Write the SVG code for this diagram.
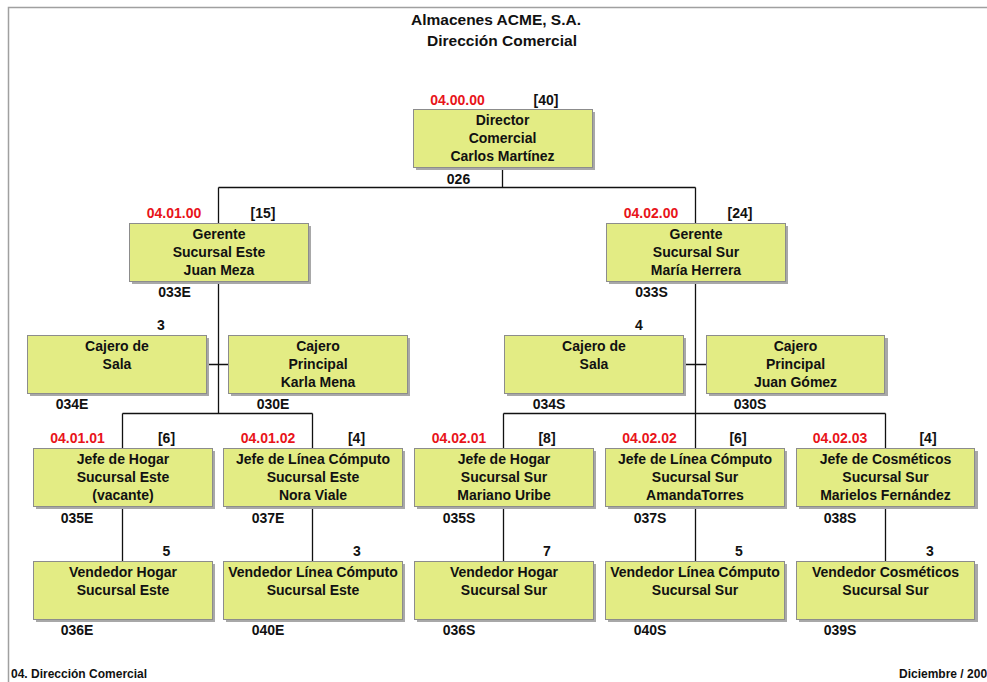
<svg xmlns="http://www.w3.org/2000/svg" width="987" height="682" viewBox="0 0 987 682">
<style>
.bx{fill:#e3ec84;stroke:#8c8c8c;stroke-width:1}
.sh{fill:#a8a8a8}
text{font-family:"Liberation Sans",Arial,sans-serif;font-weight:bold;fill:#111}
.t{font-size:14px;text-anchor:middle}
.m{font-size:14px;text-anchor:middle}
.r{fill:#e8141a}
.ttl{font-size:15.5px;text-anchor:middle}
.f{font-size:12px}
.ln{stroke:#111;stroke-width:1.3;fill:none}
.fr{stroke:#a0a0a0;stroke-width:1.5;fill:none}
</style>
<rect width="987" height="682" fill="#fff"/>
<path class="fr" d="M8.5,682 V7.5 H987"/>
<g id="title">
<text class="ttl" x="496" y="25">Almacenes ACME, S.A.</text>
<text class="ttl" x="502" y="46">Dirección Comercial</text>
</g>
<g id="connectors">
<path class="ln" d="M502.5,167 V187.5 M218.5,187.5 H695.5 M218.5,187.5 V413.5 M695.5,187.5 V413.5 M207,364.5 H228 M683,364.5 H706 M122.5,413.5 H312.5 M122.5,413.5 V561 M312.5,413.5 V561 M503.5,413.5 H885.5 M503.5,413.5 V561 M695.5,413.5 V561 M885.5,413.5 V561"/>
</g>
<g id="n_director">
<rect class="sh" x="416" y="112" width="179" height="58"/>
<rect class="bx" x="413.5" y="109.5" width="179" height="58"/>
<text class="t" x="502.5" y="125">Director</text>
<text class="t" x="502.5" y="143">Comercial</text>
<text class="t" x="502.5" y="161">Carlos Martínez</text>
<text class="m r" x="457.5" y="105">04.00.00</text>
<text class="m" x="546" y="105">[40]</text>
<text class="m" x="458.5" y="184">026</text>
</g>
<g id="n_gerente_este">
<rect class="sh" x="132" y="226" width="179" height="58"/>
<rect class="bx" x="129.5" y="223.5" width="179" height="58"/>
<text class="t" x="219" y="239">Gerente</text>
<text class="t" x="219" y="257">Sucursal Este</text>
<text class="t" x="219" y="275">Juan Meza</text>
<text class="m r" x="174" y="218">04.01.00</text>
<text class="m" x="263" y="218">[15]</text>
<text class="m" x="174.5" y="297">033E</text>
</g>
<g id="n_gerente_sur">
<rect class="sh" x="609" y="226" width="179" height="58"/>
<rect class="bx" x="606.5" y="223.5" width="179" height="58"/>
<text class="t" x="696" y="239">Gerente</text>
<text class="t" x="696" y="257">Sucursal Sur</text>
<text class="t" x="696" y="275">María Herrera</text>
<text class="m r" x="651" y="218">04.02.00</text>
<text class="m" x="740" y="218">[24]</text>
<text class="m" x="651.5" y="297">033S</text>
</g>
<g id="n_cajero_sala_este">
<rect class="sh" x="30" y="338" width="179" height="58"/>
<rect class="bx" x="27.5" y="335.5" width="179" height="58"/>
<text class="t" x="117" y="351">Cajero de</text>
<text class="t" x="117" y="369">Sala</text>
<text class="m" x="161" y="330">3</text>
<text class="m" x="72" y="409">034E</text>
</g>
<g id="n_cajero_principal_este">
<rect class="sh" x="231" y="338" width="179" height="58"/>
<rect class="bx" x="228.5" y="335.5" width="179" height="58"/>
<text class="t" x="318" y="351">Cajero</text>
<text class="t" x="318" y="369">Principal</text>
<text class="t" x="318" y="387">Karla Mena</text>
<text class="m" x="273" y="409">030E</text>
</g>
<g id="n_cajero_sala_sur">
<rect class="sh" x="507" y="338" width="179" height="58"/>
<rect class="bx" x="504.5" y="335.5" width="179" height="58"/>
<text class="t" x="594" y="351">Cajero de</text>
<text class="t" x="594" y="369">Sala</text>
<text class="m" x="639" y="330">4</text>
<text class="m" x="549" y="409">034S</text>
</g>
<g id="n_cajero_principal_sur">
<rect class="sh" x="709" y="338" width="179" height="58"/>
<rect class="bx" x="706.5" y="335.5" width="178" height="58"/>
<text class="t" x="795.5" y="351">Cajero</text>
<text class="t" x="795.5" y="369">Principal</text>
<text class="t" x="795.5" y="387">Juan Gómez</text>
<text class="m" x="750" y="409">030S</text>
</g>
<g id="n_jefe_hogar_este">
<rect class="sh" x="36" y="451" width="179" height="58"/>
<rect class="bx" x="33.5" y="448.5" width="179" height="58"/>
<text class="t" x="123" y="464">Jefe de Hogar</text>
<text class="t" x="123" y="482">Sucursal Este</text>
<text class="t" x="123" y="500">(vacante)</text>
<text class="m r" x="77.5" y="443">04.01.01</text>
<text class="m" x="166.5" y="443">[6]</text>
<text class="m" x="77" y="523">035E</text>
</g>
<g id="n_jefe_computo_este">
<rect class="sh" x="226" y="451" width="179" height="58"/>
<rect class="bx" x="223.5" y="448.5" width="179" height="58"/>
<text class="t" x="313" y="464">Jefe de Línea Cómputo</text>
<text class="t" x="313" y="482">Sucursal Este</text>
<text class="t" x="313" y="500">Nora Viale</text>
<text class="m r" x="268" y="443">04.01.02</text>
<text class="m" x="356.5" y="443">[4]</text>
<text class="m" x="268" y="523">037E</text>
</g>
<g id="n_jefe_hogar_sur">
<rect class="sh" x="417" y="451" width="179" height="58"/>
<rect class="bx" x="414.5" y="448.5" width="179" height="58"/>
<text class="t" x="504" y="464">Jefe de Hogar</text>
<text class="t" x="504" y="482">Sucursal Sur</text>
<text class="t" x="504" y="500">Mariano Uribe</text>
<text class="m r" x="459" y="443">04.02.01</text>
<text class="m" x="547" y="443">[8]</text>
<text class="m" x="459" y="523">035S</text>
</g>
<g id="n_jefe_computo_sur">
<rect class="sh" x="608" y="451" width="179" height="58"/>
<rect class="bx" x="605.5" y="448.5" width="179" height="58"/>
<text class="t" x="695" y="464">Jefe de Línea Cómputo</text>
<text class="t" x="695" y="482">Sucursal Sur</text>
<text class="t" x="695" y="500">AmandaTorres</text>
<text class="m r" x="649.5" y="443">04.02.02</text>
<text class="m" x="738" y="443">[6]</text>
<text class="m" x="650" y="523">037S</text>
</g>
<g id="n_jefe_cosmeticos_sur">
<rect class="sh" x="799" y="451" width="179" height="58"/>
<rect class="bx" x="796.5" y="448.5" width="178" height="58"/>
<text class="t" x="885.5" y="464">Jefe de Cosméticos</text>
<text class="t" x="885.5" y="482">Sucursal Sur</text>
<text class="t" x="885.5" y="500">Marielos Fernández</text>
<text class="m r" x="840" y="443">04.02.03</text>
<text class="m" x="928" y="443">[4]</text>
<text class="m" x="840" y="523">038S</text>
</g>
<g id="n_vendedor_hogar_este">
<rect class="sh" x="36" y="564" width="179" height="58"/>
<rect class="bx" x="33.5" y="561.5" width="179" height="58"/>
<text class="t" x="123" y="577">Vendedor Hogar</text>
<text class="t" x="123" y="595">Sucursal Este</text>
<text class="m" x="166.5" y="556">5</text>
<text class="m" x="77" y="635">036E</text>
</g>
<g id="n_vendedor_computo_este">
<rect class="sh" x="226" y="564" width="179" height="58"/>
<rect class="bx" x="223.5" y="561.5" width="179" height="58"/>
<text class="t" x="313" y="577">Vendedor Línea Cómputo</text>
<text class="t" x="313" y="595">Sucursal Este</text>
<text class="m" x="357" y="556">3</text>
<text class="m" x="268" y="635">040E</text>
</g>
<g id="n_vendedor_hogar_sur">
<rect class="sh" x="417" y="564" width="179" height="58"/>
<rect class="bx" x="414.5" y="561.5" width="179" height="58"/>
<text class="t" x="504" y="577">Vendedor Hogar</text>
<text class="t" x="504" y="595">Sucursal Sur</text>
<text class="m" x="547" y="556">7</text>
<text class="m" x="459" y="635">036S</text>
</g>
<g id="n_vendedor_computo_sur">
<rect class="sh" x="608" y="564" width="179" height="58"/>
<rect class="bx" x="605.5" y="561.5" width="179" height="58"/>
<text class="t" x="695" y="577">Vendedor Línea Cómputo</text>
<text class="t" x="695" y="595">Sucursal Sur</text>
<text class="m" x="739" y="556">5</text>
<text class="m" x="650" y="635">040S</text>
</g>
<g id="n_vendedor_cosmeticos_sur">
<rect class="sh" x="799" y="564" width="179" height="58"/>
<rect class="bx" x="796.5" y="561.5" width="178" height="58"/>
<text class="t" x="885.5" y="577">Vendedor Cosméticos</text>
<text class="t" x="885.5" y="595">Sucursal Sur</text>
<text class="m" x="930" y="556">3</text>
<text class="m" x="840" y="635">039S</text>
</g>
<g id="footer">
<text class="f" x="11" y="678">04. Dirección Comercial</text>
<text class="f" x="899" y="678">Diciembre / 200</text>
</g>
</svg>
